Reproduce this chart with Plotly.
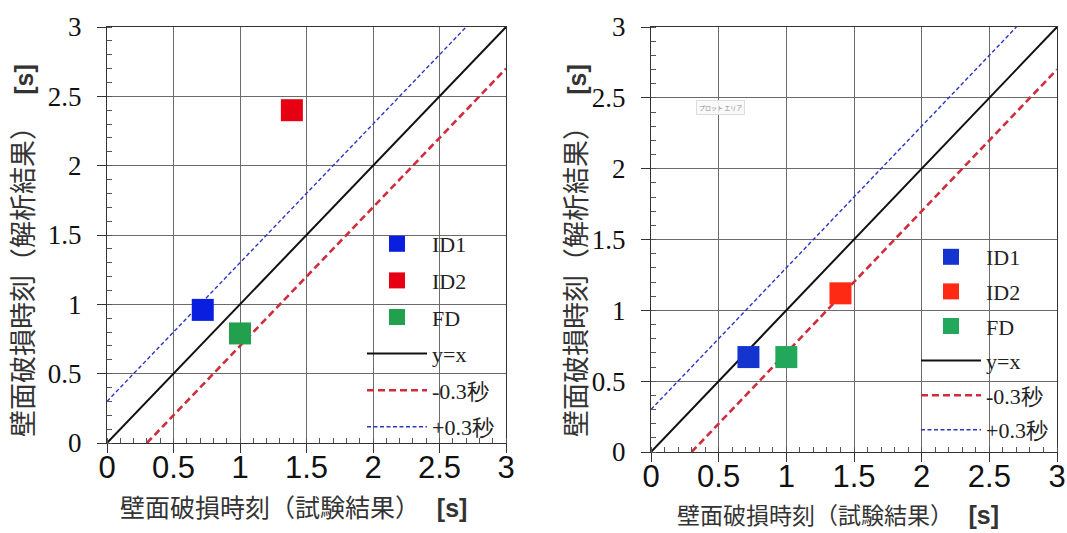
import plotly.graph_objects as go

# ---- data ----
series_names = ["ID1", "ID2", "FD"]
left_x = [0.72, 1.39, 1.0]
left_y = [0.96, 2.40, 0.79]
right_x = [0.72, 1.40, 1.0]
right_y = [0.67, 1.12, 0.67]
left_colors = ["#0a1ee0", "#e60012", "#22a04e"]
right_colors = ["#1434d0", "#ff2a14", "#22a85a"]

line_names = ["y=x", "-0.3秒", "+0.3秒"]
line_x = [[0, 3], [0.3, 3], [0, 2.7]]
line_y = [[0, 3], [0, 2.7], [0.3, 3]]
line_colors = ["#111111", "#cf2d3c", "#2c36c4"]
line_widths = [2, 2.6, 1.4]
line_dashes = ["solid", "7px,4px", "4px,2.5px"]

tick_vals = [0, 0.5, 1, 1.5, 2, 2.5, 3]
tick_text = ["0", "0.5", "1", "1.5", "2", "2.5", "3"]

x_title = "壁面破損時刻（試験結果）"
y_title = "壁面破損時刻（解析結果）"

W, H = 1067, 533
fig = go.Figure()

panels = [
    dict(xs=left_x, ys=left_y, cols=left_colors, xa="x", ya="y", legend="legend"),
    dict(xs=right_x, ys=right_y, cols=right_colors, xa="x2", ya="y2", legend="legend2"),
]
for pi, p in enumerate(panels):
    for i, name in enumerate(line_names):
        fig.add_trace(go.Scatter(
            x=line_x[i], y=line_y[i], mode="lines", name=name,
            line=dict(color=line_colors[i], width=line_widths[i], dash=line_dashes[i]),
            xaxis=p["xa"], yaxis=p["ya"], legend=p["legend"],
            legendgroup=f"p{pi}l{i}", legendrank=10 + i, showlegend=True))
    for i, name in enumerate(series_names):
        fig.add_trace(go.Scatter(
            x=[p["xs"][i]], y=[p["ys"][i]], mode="markers", name=name,
            marker=dict(symbol="square", size=22, color=p["cols"][i]),
            xaxis=p["xa"], yaxis=p["ya"], legend=p["legend"],
            legendgroup=f"p{pi}m{i}", legendrank=i, showlegend=True))


def xaxis_style(domain, anchor):
    return dict(domain=domain, anchor=anchor, range=[0, 3], tickvals=tick_vals, ticktext=tick_text,
                showgrid=True, gridcolor="#6b6b6b", gridwidth=1, zeroline=False,
                showline=True, linecolor="#333333", linewidth=1.2, mirror=True,
                ticks="outside", ticklen=9, tickcolor="#333333",
                minor=dict(dtick=0.1, ticks="inside", ticklen=5, tickcolor="#555555", showgrid=False),
                tickfont=dict(family="Liberation Sans, Arial", size=31, color="#111111"),
                ticklabelstandoff=-12, automargin=False, fixedrange=True)


def yaxis_style(domain, anchor):
    return dict(domain=domain, anchor=anchor, range=[0, 3], tickvals=tick_vals, ticktext=tick_text,
                showgrid=True, gridcolor="#6b6b6b", gridwidth=1, zeroline=False,
                showline=True, linecolor="#333333", linewidth=1.2, mirror=True,
                ticks="outside", ticklen=9, tickcolor="#333333",
                minor=dict(dtick=0.1, ticks="inside", ticklen=5, tickcolor="#555555", showgrid=False),
                tickfont=dict(family="Liberation Serif, Times New Roman", size=27, color="#111111"),
                ticklabelstandoff=10, automargin=False, fixedrange=True)


legend_common = dict(bgcolor="rgba(0,0,0,0)", borderwidth=0, itemwidth=60,
                     font=dict(family="Liberation Serif, Times New Roman", size=22, color="#222222"),
                     xanchor="left", yanchor="top", itemclick=False, itemdoubleclick=False)

fig.update_layout(
    width=W, height=H,
    margin=dict(l=0, r=0, t=0, b=0, autoexpand=False),
    paper_bgcolor="white", plot_bgcolor="white",
    xaxis=xaxis_style([107 / W, 506 / W], "y"),
    yaxis=yaxis_style([1 - 443 / H, 1 - 27 / H], "x"),
    xaxis2=xaxis_style([651 / W, 1057 / W], "y2"),
    yaxis2=yaxis_style([1 - 452 / H, 1 - 27 / H], "x2"),
    legend=dict(legend_common, x=362 / W, y=1 - 223 / H, tracegroupgap=5),
    legend2=dict(legend_common, x=916 / W, y=1 - 236 / H, tracegroupgap=3),
    showlegend=True,
)

cjk = "Noto Sans CJK JP"
s_tag = "   <span style='font-family:Liberation Sans;font-weight:bold;font-size:25px'>[s]</span>"
annotations = [
    dict(x=293 / W, y=1 - 506 / H, text=x_title + s_tag, font=dict(family=cjk, size=25, color="#333333")),
    dict(x=838 / W, y=1 - 514 / H, text=x_title + s_tag, font=dict(family=cjk, size=23, color="#333333")),
    dict(x=22 / W, y=1 - 251 / H, textangle=-90, text=y_title + s_tag, font=dict(family=cjk, size=27, color="#333333")),
    dict(x=575 / W, y=1 - 251 / H, textangle=-90, text=y_title + s_tag, font=dict(family=cjk, size=27, color="#333333")),
    dict(x=720 / W, y=1 - 107 / H, text="プロット エリア",
         font=dict(family=cjk, size=6, color="#888888"), bgcolor="rgba(250,250,250,0.9)",
         bordercolor="#dddddd", borderwidth=1, borderpad=2),
]
for a in annotations:
    a.update(xref="paper", yref="paper", showarrow=False, xanchor="center", yanchor="middle")
fig.update_layout(annotations=annotations)

fig.write_html("out.html")
